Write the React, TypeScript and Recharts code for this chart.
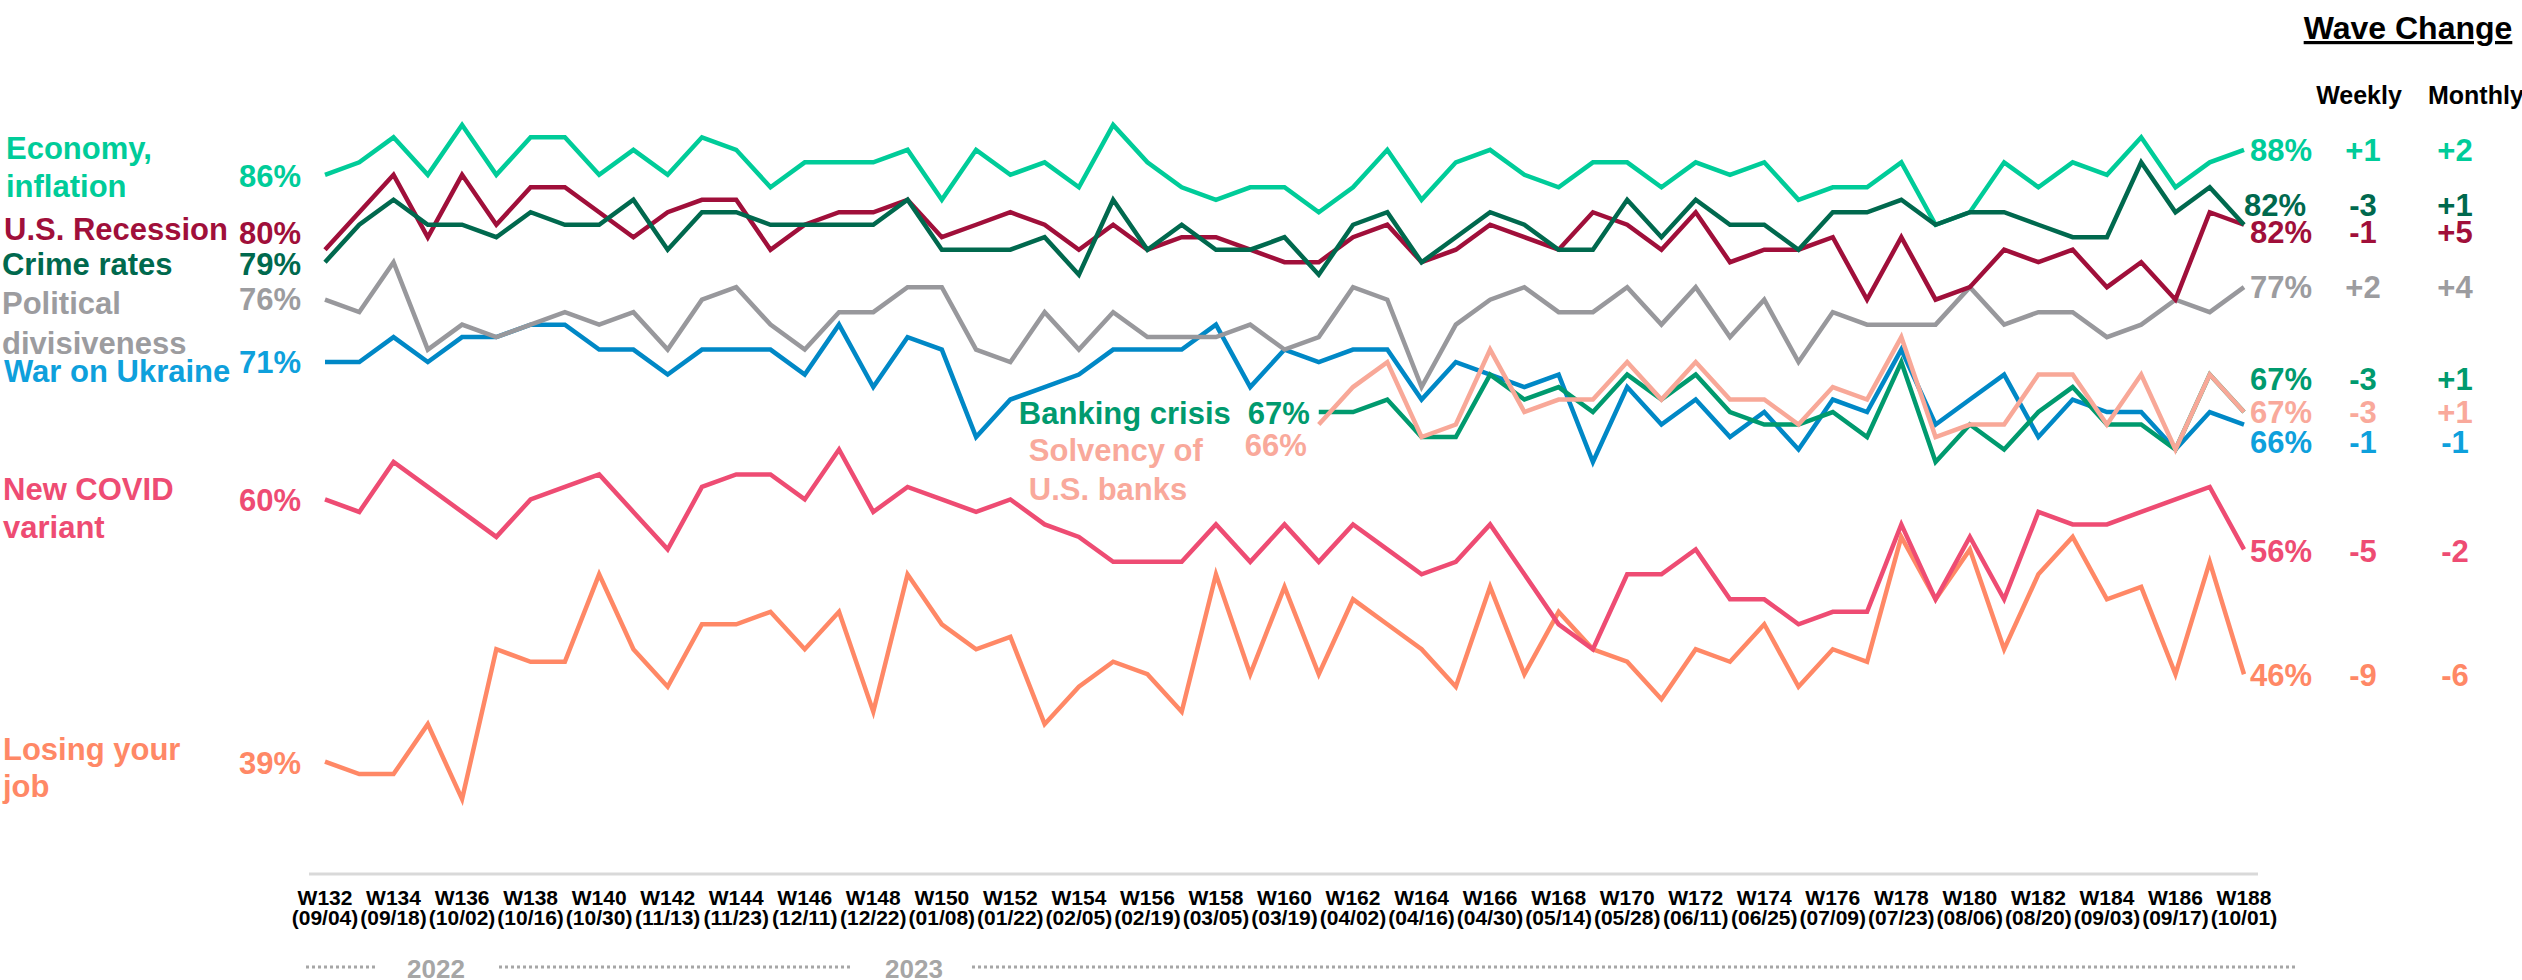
import React from 'react';
import { LineChart, Line, XAxis, YAxis } from 'recharts';

const waves = [
  'W132','W133','W134','W135','W136','W137','W138','W139','W140','W141',
  'W142','W143','W144','W145','W146','W147','W148','W149','W150','W151',
  'W152','W153','W154','W155','W156','W157','W158','W159','W160','W161',
  'W162','W163','W164','W165','W166','W167','W168','W169','W170','W171',
  'W172','W173','W174','W175','W176','W177','W178','W179','W180','W181',
  'W182','W183','W184','W185','W186','W187','W188',
];

const tickWaves = [
  'W132','W134','W136','W138','W140','W142','W144','W146','W148','W150',
  'W152','W154','W156','W158','W160','W162','W164','W166','W168','W170',
  'W172','W174','W176','W178','W180','W182','W184','W186','W188',
];
const tickDates = [
  '(09/04)','(09/18)','(10/02)','(10/16)','(10/30)','(11/13)','(11/23)','(12/11)','(12/22)','(01/08)',
  '(01/22)','(02/05)','(02/19)','(03/05)','(03/19)','(04/02)','(04/16)','(04/30)','(05/14)','(05/28)',
  '(06/11)','(06/25)','(07/09)','(07/23)','(08/06)','(08/20)','(09/03)','(09/17)','(10/01)',
];

const economy = [86,87,89,86,90,86,89,89,86,88,86,89,88,85,87,87,87,88,84,88,86,87,85,90,87,85,84,85,85,83,85,88,84,87,88,86,85,87,87,85,87,86,87,84,85,85,87,82,83,87,85,87,86,89,85,87,88];
const recession = [80,83,86,81,86,82,85,85,83,81,83,84,84,80,82,83,83,84,81,82,83,82,80,82,80,81,81,80,79,79,81,82,79,80,82,81,80,83,82,80,83,79,80,80,81,76,81,76,77,80,79,80,77,79,76,83,82];
const crime = [79,82,84,82,82,81,83,82,82,84,80,83,83,82,82,82,82,84,80,80,80,81,78,84,80,82,80,80,81,78,82,83,79,81,83,82,80,80,84,81,84,82,82,80,83,83,84,82,83,83,82,81,81,87,83,85,82];
const political = [76,75,79,72,74,73,74,75,74,75,72,76,77,74,72,75,75,77,77,72,71,75,72,75,73,73,73,74,72,73,77,76,69,74,76,77,75,75,77,74,77,73,76,71,75,74,74,74,77,74,75,75,73,74,76,75,77];
const war = [71,71,73,71,73,73,74,74,72,72,70,72,72,72,70,74,69,73,72,65,68,69,70,72,72,72,74,69,72,71,72,72,68,71,70,69,70,63,69,66,68,65,67,64,68,67,72,66,68,70,65,68,67,67,64,67,66];
const banking = [null,null,null,null,null,null,null,null,null,null,null,null,null,null,null,null,null,null,null,null,null,null,null,null,null,null,null,null,null,
  67,67,68,65,65,70,68,69,67,70,68,70,67,66,66,67,65,71,63,66,64,67,69,66,66,64,70,67];
const solvency = [null,null,null,null,null,null,null,null,null,null,null,null,null,null,null,null,null,null,null,null,null,null,null,null,null,null,null,null,null,
  66,69,71,65,66,72,67,68,68,71,68,71,68,68,66,69,68,73,65,66,66,70,70,66,70,64,70,67];
const covid = [60,59,63,61,59,57,60,61,62,59,56,61,62,62,60,64,59,61,60,59,60,58,57,55,55,55,58,55,58,55,58,56,54,55,58,54,50,48,54,54,56,52,52,50,51,51,58,52,57,52,59,58,58,59,60,61,56];
const losing = [39,38,38,42,36,48,47,47,54,48,45,50,50,51,48,51,43,54,50,48,49,42,45,47,46,43,54,46,53,46,52,50,48,45,53,46,51,48,47,44,48,47,50,45,48,47,57,52,56,48,54,57,52,53,46,55,46];

const seriesValues: Record<string, (number | null)[]> = {
  economy, recession, crime, political, war, banking, solvency, covid, losing,
};

const data = waves.map((w, i) => ({
  wave: w,
  economy: economy[i],
  recession: recession[i],
  crime: crime[i],
  political: political[i],
  war: war[i],
  banking: banking[i],
  solvency: solvency[i],
  covid: covid[i],
  losing: losing[i],
}));

const FONT = '"Liberation Sans", Arial, Helvetica, sans-serif';
const LABEL_SIZE = 31;
const HALF_CAP = 11;

type Cfg = {
  key: string;
  names: string[];
  color: string;
  text: string;
  nameX: number;
  nameAnchor: 'start' | 'end';
  nameDy: number[];
  pctX: number;
  pctDy: number;
  rightDx: number;
  rightDy: number;
};

const series: Cfg[] = [
  { key: 'losing', names: ['Losing your', 'job'], color: '#FF8866', text: '#FF8866', nameX: -322, nameAnchor: 'start', nameDy: [-13, 24], pctX: -24, pctDy: 1, rightDx: 6, rightDy: 1 },
  { key: 'covid', names: ['New COVID', 'variant'], color: '#EE4C73', text: '#EE4C73', nameX: -322, nameAnchor: 'start', nameDy: [-10, 28], pctX: -24, pctDy: 1, rightDx: 6, rightDy: 2 },
  { key: 'war', names: ['War on Ukraine'], color: '#0088C6', text: '#0EA0DC', nameX: -321, nameAnchor: 'start', nameDy: [9], pctX: -24, pctDy: 0, rightDx: 6, rightDy: 17 },
  { key: 'banking', names: ['Banking crisis'], color: '#009A6E', text: '#009A6E', nameX: -88, nameAnchor: 'end', nameDy: [1], pctX: -9, pctDy: 1, rightDx: 6, rightDy: -33 },
  { key: 'solvency', names: ['Solvency of', 'U.S. banks'], color: '#F8A898', text: '#F9A99B', nameX: -290, nameAnchor: 'start', nameDy: [25, 64], pctX: -12, pctDy: 20, rightDx: 6, rightDy: 0 },
  { key: 'political', names: ['Political', 'divisiveness'], color: '#98989C', text: '#9C9C9F', nameX: -323, nameAnchor: 'start', nameDy: [3, 43], pctX: -24, pctDy: -1, rightDx: 6, rightDy: 0 },
  { key: 'recession', names: ['U.S. Recession'], color: '#A00F3A', text: '#A00F3A', nameX: -321, nameAnchor: 'start', nameDy: [-21], pctX: -24, pctDy: -17, rightDx: 6, rightDy: 7 },
  { key: 'economy', names: ['Economy,', 'inflation'], color: '#00CC99', text: '#00CC99', nameX: -319, nameAnchor: 'start', nameDy: [-27, 11], pctX: -24, pctDy: 1, rightDx: 6, rightDy: 0 },
  { key: 'crime', names: ['Crime rates'], color: '#00694E', text: '#00694E', nameX: -323, nameAnchor: 'start', nameDy: [2], pctX: -24, pctDy: 2, rightDx: 0, rightDy: -20 },
];

const fmtChange = (v: number) => (v > 0 ? `+${v}` : `${v}`);

const makeDot = (s: Cfg) => (props: any) => {
  const { cx, cy, index } = props;
  const k = `dot-${s.key}-${index}`;
  if (cx == null || cy == null || Number.isNaN(cx) || Number.isNaN(cy)) return <g key={k} />;
  const vals = seriesValues[s.key];
  const first = vals.findIndex((v) => v != null);
  const last = vals.length - 1;
  const textStyle = { fontFamily: FONT, fontWeight: 700, fontSize: LABEL_SIZE } as const;
  if (index === first) {
    return (
      <g key={k}>
        {s.names.map((n, j) => (
          <text key={j} x={cx + s.nameX} y={cy + s.nameDy[j] + HALF_CAP} textAnchor={s.nameAnchor} fill={s.text} style={textStyle}>
            {n}
          </text>
        ))}
        <text x={cx + s.pctX} y={cy + s.pctDy + HALF_CAP} textAnchor="end" fill={s.text} style={textStyle}>
          {`${vals[first]}%`}
        </text>
      </g>
    );
  }
  if (index === last) {
    const v = vals[last] as number;
    const weekly = v - (vals[last - 1] as number);
    const monthly = v - (vals[last - 4] as number);
    const yy = cy + s.rightDy + HALF_CAP;
    return (
      <g key={k}>
        <text x={cx + s.rightDx} y={yy} textAnchor="start" fill={s.text} style={textStyle}>{`${v}%`}</text>
        <text x={cx + 119} y={yy} textAnchor="middle" fill={s.text} style={textStyle}>{fmtChange(weekly)}</text>
        <text x={cx + 211} y={yy} textAnchor="middle" fill={s.text} style={textStyle}>{fmtChange(monthly)}</text>
      </g>
    );
  }
  return <g key={k} />;
};

const WaveTick = (props: any) => {
  const { x, y, payload } = props;
  const idx = tickWaves.indexOf(payload.value);
  const st = { fontFamily: FONT, fontWeight: 700, fontSize: 21 } as const;
  return (
    <g>
      <text x={x} y={y + 31} textAnchor="middle" fill="#000" style={st}>{payload.value}</text>
      <text x={x} y={y + 51} textAnchor="middle" fill="#000" style={st}>{idx >= 0 ? tickDates[idx] : ''}</text>
    </g>
  );
};

export default function App() {
  return (
    <div style={{ position: 'absolute', left: 0, top: 0, width: 2522, height: 980, background: '#fff', overflow: 'hidden' }}>
      <LineChart width={2522} height={980} data={data} margin={{ top: 0, right: 264, bottom: 46, left: 309 }}>
        <YAxis hide type="number" domain={[30, 100]} />
        <XAxis
          dataKey="wave"
          interval={1}
          height={60}
          padding={{ left: 16, right: 14 }}
          tickLine={false}
          tickSize={0}
          tickMargin={0}
          axisLine={{ stroke: '#D9D9D9', strokeWidth: 3 }}
          tick={<WaveTick />}
        />
        {series.map((s) => (
          <Line
            key={s.key}
            type="linear"
            dataKey={s.key}
            stroke={s.color}
            strokeWidth={4.5}
            dot={makeDot(s)}
            activeDot={false}
            isAnimationActive={false}
            connectNulls={false}
          />
        ))}
      </LineChart>
      <svg width={2522} height={980} style={{ position: 'absolute', left: 0, top: 0, pointerEvents: 'none' }}>
        <text x={2408} y={39} textAnchor="middle" fill="#000" style={{ fontFamily: FONT, fontWeight: 700, fontSize: 32, textDecoration: 'underline' }}>Wave Change</text>
        <text x={2359} y={104} textAnchor="middle" fill="#000" style={{ fontFamily: FONT, fontWeight: 700, fontSize: 25 }}>Weekly</text>
        <text x={2428} y={104} textAnchor="start" fill="#000" style={{ fontFamily: FONT, fontWeight: 700, fontSize: 25 }}>Monthly</text>
        <g stroke="#A6A6A6" strokeWidth={3} strokeDasharray="3 3">
          <line x1={306} y1={967} x2={376} y2={967} />
          <line x1={499} y1={967} x2={853} y2={967} />
          <line x1={972} y1={967} x2={2296} y2={967} />
        </g>
        <text x={436} y={978} textAnchor="middle" fill="#A6A6A6" style={{ fontFamily: FONT, fontWeight: 700, fontSize: 26 }}>2022</text>
        <text x={914} y={978} textAnchor="middle" fill="#A6A6A6" style={{ fontFamily: FONT, fontWeight: 700, fontSize: 26 }}>2023</text>
      </svg>
    </div>
  );
}
